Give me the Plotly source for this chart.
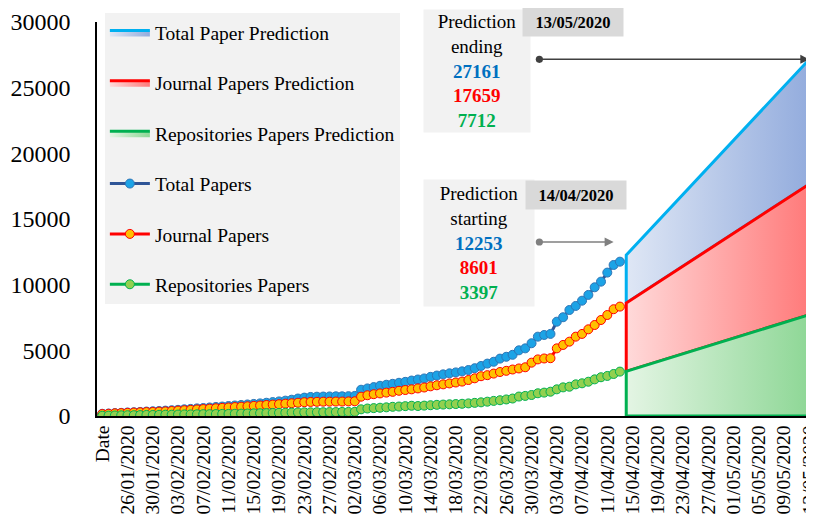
import pandas as pd
import plotly.graph_objects as go

# observed daily counts, 22/01/2020 .. 13/04/2020
start_date = "2020-01-22"
total_papers = [
    170, 190, 220, 240, 270, 290, 310, 340, 360, 380,
    410, 440, 470, 510, 540, 580, 610, 650, 690, 720,
    760, 800, 840, 880, 920, 960, 1010, 1060, 1110, 1170,
    1240, 1330, 1400, 1450, 1470, 1480, 1490, 1500, 1500, 1510,
    1530, 2000, 2100, 2200, 2300, 2380, 2450, 2530, 2600, 2700,
    2780, 2860, 2980, 3080, 3170, 3250, 3320, 3400, 3500, 3640,
    3810, 3990, 4130, 4370, 4510, 4660, 5000, 5150, 5540, 6040,
    6170, 6250, 7180, 7520, 8070, 8380, 8780, 9220, 9800, 10230,
    10920, 11500, 11750,
]
journal_papers = [
    150, 170, 200, 220, 240, 260, 280, 300, 310, 330,
    350, 380, 410, 440, 470, 500, 530, 560, 590, 620,
    650, 680, 710, 740, 770, 800, 840, 870, 900, 940,
    970, 1010, 1050, 1070, 1080, 1090, 1090, 1100, 1100, 1110,
    1120, 1470, 1580, 1660, 1720, 1780, 1840, 1920, 1980, 2030,
    2100, 2170, 2260, 2340, 2410, 2480, 2550, 2620, 2740, 2870,
    3030, 3110, 3230, 3350, 3440, 3540, 3620, 3710, 4060, 4310,
    4380, 4400, 5150, 5410, 5660, 6040, 6250, 6600, 6930, 7310,
    7690, 8130, 8330,
]
repo_papers = [
    20, 30, 40, 50, 60, 60, 70, 80, 80, 90,
    100, 100, 110, 120, 120, 130, 140, 140, 150, 160,
    160, 170, 180, 190, 200, 210, 220, 230, 240, 250,
    260, 270, 280, 280, 290, 290, 300, 300, 310, 310,
    320, 510, 570, 600, 630, 660, 700, 720, 750, 780,
    760, 790, 820, 850, 870, 890, 910, 930, 960, 1000,
    1040, 1090, 1150, 1200, 1260, 1330, 1480, 1530, 1600, 1730,
    1780, 1850, 2030, 2180, 2230, 2410, 2490, 2610, 2790, 2950,
    3050, 3200, 3380,
]

# prediction: start 14/04/2020, end 13/05/2020
pred_dates = ["2020-04-14", "2020-05-13"]
pred_total = [12253, 27161]
pred_journal = [8601, 17659]
pred_repo = [3397, 7712]

tick_dates = pd.date_range("2020-01-22", "2020-05-13", freq="4D")
tick_text = ["Date", "26/01/2020", "30/01/2020", "03/02/2020", "07/02/2020", "11/02/2020",
             "15/02/2020", "19/02/2020", "23/02/2020", "27/02/2020", "02/03/2020",
             "06/03/2020", "10/03/2020", "14/03/2020", "18/03/2020", "22/03/2020",
             "26/03/2020", "30/03/2020", "03/04/2020", "07/04/2020", "11/04/2020",
             "15/04/2020", "19/04/2020", "23/04/2020", "27/04/2020", "01/05/2020",
             "05/05/2020", "09/05/2020", "13/05/2020"]
y_ticks = [0, 5000, 10000, 15000, 20000, 25000, 30000]

dates = pd.date_range(start_date, periods=len(total_papers), freq="D")
FONT = "Liberation Serif"

fig = go.Figure()


def add_band(name, lower, upper, line_color, c0, c1, rank):
    xs = [pred_dates[0], pred_dates[1], pred_dates[1], pred_dates[0], pred_dates[0]]
    ys = [lower[0], lower[1], upper[1], upper[0], lower[0]]
    fig.add_trace(go.Scatter(
        x=xs, y=ys, mode="lines", fill="toself", name=name,
        line=dict(color=line_color, width=3),
        fillgradient=dict(type="horizontal", colorscale=[[0, c0], [1, c1]]),
        legendgroup=name, legendrank=rank, hoverinfo="skip",
    ))


add_band("Total Paper Prediction", pred_journal, pred_total, "#00b0f0", "#dfe7f5", "#93acdd", 1)
add_band("Journal Papers Prediction", pred_repo, pred_journal, "#ff0000", "#ffdada", "#ff7a7a", 2)
add_band("Repositories Papers Prediction", [0, 0], pred_repo, "#00b050", "#e4f5e4", "#8ed796", 3)

series = [
    ("Total Papers", total_papers, "#2f5597", "#1ca3e6", "#2e75b6", 4),
    ("Journal Papers", journal_papers, "#ff0000", "#ffc000", "#ff0000", 5),
    ("Repositories Papers", repo_papers, "#00b050", "#92d050", "#00b050", 6),
]
for name, vals, lc, mc, me, rank in series:
    fig.add_trace(go.Scatter(
        x=dates, y=vals, mode="lines+markers", name=name,
        line=dict(color=lc, width=3),
        marker=dict(size=9, color=mc, line=dict(color=me, width=1)),
        legendgroup=name, legendrank=rank,
    ))

# text boxes
box_font = dict(family=FONT, size=19, color="#000000")
fig.add_annotation(
    xref="paper", yref="paper", x=0.531, y=0.876, xanchor="center", yanchor="middle",
    showarrow=False,
    text=("Prediction<br>ending<br><b><span style='color:#0070c0'>27161</span></b><br>"
          "<b><span style='color:#ff0000'>17659</span></b><br>"
          "<b><span style='color:#00b050'>7712</span></b>"),
    font=box_font, bgcolor="#f2f2f2", width=104, height=120, align="center",
)
fig.add_annotation(
    xref="paper", yref="paper", x=0.534, y=0.44, xanchor="center", yanchor="middle",
    showarrow=False,
    text=("Prediction<br>starting<br><b><span style='color:#0070c0'>12253</span></b><br>"
          "<b><span style='color:#ff0000'>8601</span></b><br>"
          "<b><span style='color:#00b050'>3397</span></b>"),
    font=box_font, bgcolor="#f2f2f2", width=108, height=124, align="center",
)
fig.add_annotation(
    xref="paper", yref="paper", x=0.665, y=1.001, xanchor="center", yanchor="middle",
    showarrow=False,
    text="<b>13/05/2020</b>", font=dict(family=FONT, size=16.5, color="#000000"),
    bgcolor="#d9d9d9", width=98, height=26,
)
fig.add_annotation(
    xref="paper", yref="paper", x=0.669, y=0.562, xanchor="center", yanchor="middle",
    showarrow=False,
    text="<b>14/04/2020</b>", font=dict(family=FONT, size=16.5, color="#000000"),
    bgcolor="#d9d9d9", width=98, height=26,
)

# arrows
fig.add_annotation(
    x="2020-05-13", y=27161, ax="2020-03-31", ay=27161, axref="x", ayref="y",
    text="", showarrow=True, arrowside="end+start", arrowhead=2, startarrowhead=6,
    arrowsize=1.2, startarrowsize=1.2, arrowwidth=1.5, arrowcolor="#404040",
)
fig.add_annotation(
    x="2020-04-12", y=13250, ax="2020-03-31", ay=13250, axref="x", ayref="y",
    text="", showarrow=True, arrowside="end+start", arrowhead=2, startarrowhead=6,
    arrowsize=1.2, startarrowsize=1.2, arrowwidth=1.5, arrowcolor="#808080",
)

# the page body adds an 8px margin, so the figure is sized to fit the window
fig.update_layout(
    width=806, height=515, autosize=False,
    margin=dict(l=89, r=1, t=14, b=107),
    paper_bgcolor="white", plot_bgcolor="white",
    font=dict(family=FONT, color="#000000"),
    showlegend=True,
    legend=dict(
        x=0.011, y=1.022, xanchor="left", yanchor="top",
        bgcolor="#f2f2f2", font=dict(family=FONT, size=19.5, color="#000000"),
        tracegroupgap=22, itemwidth=40, maxheight=420,
    ),
    xaxis=dict(
        type="date", range=["2020-01-21 04:00", "2020-05-13 14:00"],
        tickvals=tick_dates, ticktext=tick_text, tickangle=-90,
        tickfont=dict(family=FONT, size=19.5, color="#000000"),
        showgrid=False, showline=True, linecolor="#000000", linewidth=1.5,
        ticks="", zeroline=False, automargin=False, ticklabeloverflow="allow",
    ),
    yaxis=dict(
        range=[0, 30000], tickvals=y_ticks, tickformat="d",
        tickfont=dict(family=FONT, size=24, color="#000000"),
        showgrid=False, showline=True, linecolor="#000000", linewidth=1.5,
        ticks="", zeroline=False, ticklabelstandoff=20, automargin=False,
    ),
)

fig.write_html("out.html")
